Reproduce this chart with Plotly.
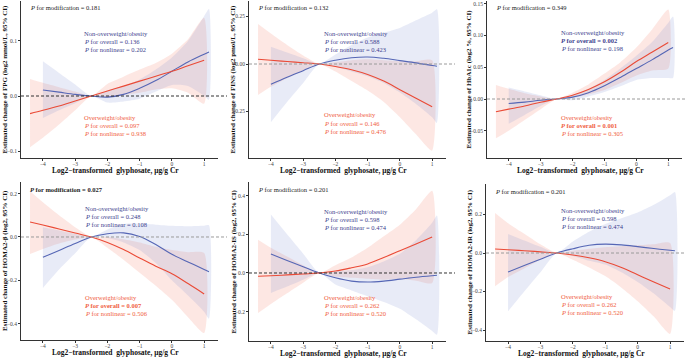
import plotly.graph_objects as go

# ---------------- data ----------------
x_ow = [-4.4, -4, -3.5, -3, -2.5, -2, -1.5, -1, -0.5, 0, 0.5, 1.0]          # Overweight/obesity
x_now = [-4, -3.5, -3, -2.5, -2, -1.5, -1, -0.5, 0, 0.5, 1.0, 1.15]         # Non-overweight/obesity
x_ticks = [-4, -3, -2, -1, 0, 1]

# FPG
fpg_ow = [-0.032, -0.026, -0.018, -0.009, 0, 0.009, 0.018, 0.027, 0.036, 0.045, 0.055, 0.065]
fpg_ow_hi = [0.031, 0.024, 0.016, 0.008, 0, 0.022, 0.035, 0.048, 0.06, 0.077, 0.103, 0.142]
fpg_ow_lo = [-0.093, -0.076, -0.052, -0.026, 0, -0.003, 0.002, 0.006, 0.012, 0.014, 0.006, -0.014]
fpg_now = [0.011, 0.007, 0.003, 0, -0.002, 0.003, 0.014, 0.028, 0.045, 0.062, 0.076, 0.08]
fpg_now_hi = [0.063, 0.042, 0.021, 0, 0.01, 0.018, 0.03, 0.048, 0.07, 0.1, 0.145, 0.158]
fpg_now_lo = [-0.04, -0.026, -0.013, 0, -0.012, -0.01, -0.005, 0.008, 0.02, 0.018, 0.0, -0.007]

# FINS
fins_ow = [0.025, 0.02, 0.013, 0.007, 0, -0.013, -0.03, -0.055, -0.09, -0.135, -0.18, -0.225]
fins_ow_hi = [0.21, 0.16, 0.1, 0.045, 0, 0.01, 0.02, 0.025, 0.02, 0.015, 0.015, 0.02]
fins_ow_lo = [-0.163, -0.12, -0.075, -0.035, 0, -0.04, -0.09, -0.14, -0.2, -0.28, -0.37, -0.456]
fins_now = [-0.107, -0.07, -0.035, 0, 0.02, 0.033, 0.037, 0.03, 0.018, 0.006, -0.008, -0.012]
fins_now_hi = [0.091, 0.06, 0.03, 0, 0.05, 0.1, 0.14, 0.165, 0.19, 0.23, 0.27, 0.288]
fins_now_lo = [-0.306, -0.2, -0.1, 0, -0.015, -0.04, -0.065, -0.1, -0.15, -0.21, -0.28, -0.31]

# HbA1c
hba_ow = [-0.02, -0.016, -0.011, -0.005, 0, 0.006, 0.015, 0.027, 0.042, 0.059, 0.074, 0.089]
hba_ow_hi = [0.022, 0.016, 0.009, 0.004, 0, 0.01, 0.023, 0.04, 0.058, 0.081, 0.11, 0.141]
hba_ow_lo = [-0.062, -0.05, -0.033, -0.016, 0, 0.002, 0.007, 0.014, 0.025, 0.037, 0.045, 0.048]
hba_now = [-0.007, -0.005, -0.002, 0, 0.003, 0.01, 0.021, 0.034, 0.048, 0.062, 0.077, 0.081]
hba_now_hi = [0.018, 0.012, 0.006, 0, 0.006, 0.016, 0.03, 0.048, 0.068, 0.09, 0.12, 0.13]
hba_now_lo = [-0.039, -0.025, -0.011, 0, -0.002, 0.004, 0.011, 0.02, 0.03, 0.033, 0.033, 0.033]

# HOMA2-beta
hb_ow = [0.069, 0.055, 0.037, 0.018, 0, -0.025, -0.058, -0.097, -0.135, -0.17, -0.215, -0.263]
hb_ow_hi = [0.211, 0.16, 0.1, 0.045, 0, 0.0, -0.01, -0.025, -0.045, -0.06, -0.07, -0.074]
hb_ow_lo = [-0.078, -0.055, -0.03, -0.012, 0, -0.05, -0.105, -0.165, -0.225, -0.29, -0.37, -0.443]
hb_now = [-0.094, -0.062, -0.03, 0, 0.015, 0.019, 0.002, -0.035, -0.08, -0.115, -0.15, -0.16]
hb_now_hi = [0.045, 0.03, 0.015, 0, 0.035, 0.06, 0.062, 0.057, 0.052, 0.05, 0.052, 0.054]
hb_now_lo = [-0.235, -0.15, -0.075, 0, -0.005, -0.025, -0.06, -0.12, -0.2, -0.27, -0.345, -0.377]

# HOMA2-IS
his_ow = [-0.017, -0.014, -0.01, -0.005, 0, 0.01, 0.027, 0.047, 0.08, 0.115, 0.15, 0.186]
his_ow_hi = [0.172, 0.13, 0.085, 0.04, 0, 0.04, 0.08, 0.13, 0.19, 0.25, 0.33, 0.426]
his_ow_lo = [-0.207, -0.16, -0.105, -0.05, 0, -0.02, -0.025, -0.03, -0.035, -0.03, -0.04, -0.052]
his_now = [0.098, 0.065, 0.032, 0, -0.025, -0.042, -0.047, -0.042, -0.032, -0.022, -0.014, -0.012]
his_now_hi = [0.302, 0.2, 0.1, 0, 0.01, 0.015, 0.03, 0.06, 0.1, 0.17, 0.26, 0.298]
his_now_lo = [-0.103, -0.07, -0.035, 0, -0.06, -0.09, -0.12, -0.15, -0.185, -0.24, -0.3, -0.319]

# HOMA2-IR
hir_ow = [0.021, 0.017, 0.012, 0.006, 0, -0.01, -0.025, -0.045, -0.075, -0.113, -0.15, -0.187]
hir_ow_hi = [0.208, 0.155, 0.1, 0.045, 0, 0.012, 0.022, 0.03, 0.035, 0.04, 0.045, 0.052]
hir_ow_lo = [-0.173, -0.125, -0.08, -0.035, 0, -0.035, -0.075, -0.12, -0.18, -0.25, -0.33, -0.42]
hir_now = [-0.099, -0.065, -0.032, 0, 0.022, 0.04, 0.046, 0.042, 0.033, 0.023, 0.014, 0.012]
hir_now_hi = [0.099, 0.065, 0.032, 0, 0.06, 0.11, 0.15, 0.18, 0.21, 0.25, 0.3, 0.317]
hir_now_lo = [-0.303, -0.2, -0.1, 0, -0.015, -0.04, -0.06, -0.1, -0.15, -0.21, -0.28, -0.3]

y_titles = [
    "Estimated change of FPG (log2 mmol/L, 95% CI)",
    "Estimated change of FINS (log2 pmol/L, 95% CI)",
    "Estimated change of HbA1c (log2 %, 95% CI)",
    "Estimated change of HOMA2-β (log2, 95% CI)",
    "Estimated change of HOMA2-IS (log2, 95% CI)",
    "Estimated change of HOMA2-IR (log2, 95% CI)",
]
p_mod = ["0.181", "0.132", "0.349", "0.027", "0.201", "0.201"]
p_overall_now = ["0.136", "0.588", "0.002", "0.248", "0.598", "0.598"]
p_nonlin_now = ["0.202", "0.423", "0.198", "0.108", "0.474", "0.474"]
p_overall_ow = ["0.097", "0.146", "0.001", "0.007", "0.262", "0.262"]
p_nonlin_ow = ["0.938", "0.476", "0.305", "0.506", "0.520", "0.520"]
y_tick_vals = [
    [-0.1, 0.0, 0.1],
    [-0.25, 0.0, 0.25],
    [-0.05, 0.0, 0.05, 0.10, 0.15],
    [-0.4, -0.2, 0.0, 0.2],
    [-0.2, 0.0, 0.2, 0.4],
    [-0.4, -0.2, 0.0, 0.2],
]
y_tick_text = [
    ["−0.1", "0.0", "0.1"],
    ["−0.25", "0.00", "0.25"],
    ["−0.05", "0.00", "0.05", "0.10", "0.15"],
    ["−0.4", "−0.2", "0.0", "0.2"],
    ["−0.2", "0.0", "0.2", "0.4"],
    ["−0.4", "−0.2", "0.0", "0.2"],
]

series = [
    (fpg_ow, fpg_ow_lo, fpg_ow_hi, fpg_now, fpg_now_lo, fpg_now_hi),
    (fins_ow, fins_ow_lo, fins_ow_hi, fins_now, fins_now_lo, fins_now_hi),
    (hba_ow, hba_ow_lo, hba_ow_hi, hba_now, hba_now_lo, hba_now_hi),
    (hb_ow, hb_ow_lo, hb_ow_hi, hb_now, hb_now_lo, hb_now_hi),
    (his_ow, his_ow_lo, his_ow_hi, his_now, his_now_lo, his_now_hi),
    (hir_ow, hir_ow_lo, hir_ow_hi, hir_now, hir_now_lo, hir_now_hi),
]

# ---------------- layout (pixels) ----------------
W, H = 685, 358
def px(v):
    return v / W
def py(v):
    return 1 - v / H

# left, right, top, bottom (px); y range
panels = [
    dict(l=21, r=218, t=1, b=158, yr=[-0.1127, 0.1727]),
    dict(l=249, r=446, t=1, b=158, yr=[-0.4947, 0.3316]),
    dict(l=487, r=682, t=1, b=158, yr=[-0.0929, 0.1543]),
    dict(l=21, r=218, t=182, b=340, yr=[-0.4754, 0.2538]),
    dict(l=249, r=446, t=182, b=341, yr=[-0.3519, 0.4708]),
    dict(l=486, r=684, t=184, b=341, yr=[-0.4571, 0.3584]),
]
ytitle_x = [5, 233, 469, 5, 233, 469]
dash_col = ["#333333", "#9a9a9a", "#9a9a9a", "#9a9a9a", "#333333", "#9a9a9a"]
bold_mod = [False, False, False, True, False, False]
bold_now = [False, False, True, False, False, False]
bold_ow = [False, False, True, True, False, False]

BLUE = "#5566b5"
RED = "#ea4a36"
BLUE_T = "#3d3f8e"
RED_T = "#f0603e"
BLUE_F = "rgba(120,138,205,0.17)"
RED_F = "rgba(246,128,108,0.19)"
FONT = "Liberation Serif"

fig = go.Figure()
layout = dict(width=W, height=H, margin=dict(l=0, r=0, t=0, b=0),
              paper_bgcolor="white", plot_bgcolor="white", showlegend=False,
              font=dict(family=FONT, size=7, color="#222"))
annotations = []
shapes = []

for i, p in enumerate(panels):
    k = "" if i == 0 else str(i + 1)
    xa, ya = "x" + k, "y" + k
    ow, ow_lo, ow_hi, now, now_lo, now_hi = series[i]
    fig.add_trace(go.Scatter(x=x_ow + x_ow[::-1], y=ow_hi + ow_lo[::-1], fill="toself",
                             fillcolor=RED_F, line=dict(width=0, shape="spline", smoothing=0.6),
                             mode="lines", xaxis=xa, yaxis=ya, hoverinfo="skip"))
    fig.add_trace(go.Scatter(x=x_now + x_now[::-1], y=now_hi + now_lo[::-1], fill="toself",
                             fillcolor=BLUE_F, line=dict(width=0, shape="spline", smoothing=0.6),
                             mode="lines", xaxis=xa, yaxis=ya, hoverinfo="skip"))
    fig.add_trace(go.Scatter(x=x_now, y=now, mode="lines",
                             line=dict(color=BLUE, width=1.1, shape="spline", smoothing=1.0),
                             xaxis=xa, yaxis=ya))
    fig.add_trace(go.Scatter(x=x_ow, y=ow, mode="lines",
                             line=dict(color=RED, width=1.1, shape="spline", smoothing=1.0),
                             xaxis=xa, yaxis=ya))
    layout["xaxis" + k] = dict(domain=[px(p["l"]), px(p["r"])], range=[-4.68, 1.43],
                               anchor=ya, tickvals=x_ticks, ticktext=["−4", "−3", "−2", "−1", "0", "1"],
                               showgrid=False, zeroline=False, showline=True, linecolor="#333",
                               linewidth=1, ticks="outside", ticklen=2, tickcolor="#333",
                               ticklabelstandoff=-2,
                               tickfont=dict(size=5.5, color="#444", family=FONT))
    layout["yaxis" + k] = dict(domain=[py(p["b"]), py(p["t"])], range=p["yr"], anchor=xa,
                               tickvals=y_tick_vals[i], ticktext=y_tick_text[i],
                               showgrid=False, zeroline=False, showline=True, linecolor="#333",
                               linewidth=1, ticks="outside", ticklen=2, tickcolor="#333",
                               tickfont=dict(size=5.5, color="#444", family=FONT))
    shapes.append(dict(type="line", xref="paper", yref=ya, x0=px(p["l"]), x1=px(min(p["r"] + 9, 685)),
                       y0=0, y1=0, line=dict(color=dash_col[i], width=1, dash="3px,2px")))
    annotations.append(dict(xref="paper", yref="paper", x=px((p["l"] + p["r"]) / 2 - 4),
                            y=py(p["b"] + 12.5), text="<b>Log2−transformed  glyphosate, μg/g Cr</b>",
                            showarrow=False, xanchor="center", yanchor="middle",
                            font=dict(size=7.5, family=FONT, color="#111")))
    annotations.append(dict(xref="paper", yref="paper", x=px(ytitle_x[i]),
                            y=py((p["t"] + p["b"]) / 2), text="<b>" + y_titles[i] + "</b>",
                            textangle=-90, showarrow=False, xanchor="center", yanchor="middle",
                            font=dict(size=7, family=FONT, color="#111")))
    t = "<i>P</i> for modification = " + p_mod[i]
    if bold_mod[i]:
        t = "<b>" + t + "</b>"
    annotations.append(dict(xref="paper", yref="paper", x=px(p["l"] + 7), y=py(p["t"] + 7),
                            text=t, showarrow=False, xanchor="left", yanchor="middle",
                            font=dict(size=6.5, family=FONT, color="#222")))

now_pos = [(82, 33), (322, 33), (559, 32), (83, 208), (322, 211), (559, 210)]
ow_pos = [(82, 117), (322, 115), (559, 117), (83, 297), (322, 297), (559, 296)]
for i in range(6):
    lines_now = ["Non-overweight/obesity",
                 "<i>P</i> for overall = " + p_overall_now[i],
                 "<i>P</i> for nonlinear = " + p_nonlin_now[i]]
    if bold_now[i]:
        lines_now[1] = "<b>" + lines_now[1] + "</b>"
    lines_ow = ["Overweight/obesity",
                "<i>P</i> for overall = " + p_overall_ow[i],
                "<i>P</i> for nonlinear = " + p_nonlin_ow[i]]
    if bold_ow[i]:
        lines_ow[1] = "<b>" + lines_ow[1] + "</b>"
    for j in range(3):
        annotations.append(dict(xref="paper", yref="paper", x=px(now_pos[i][0]),
                                y=py(now_pos[i][1] + 8.3 * j), text=lines_now[j], showarrow=False,
                                xanchor="left", yanchor="middle",
                                font=dict(size=6.5, family=FONT, color=BLUE_T)))
        annotations.append(dict(xref="paper", yref="paper", x=px(ow_pos[i][0]),
                                y=py(ow_pos[i][1] + 8.3 * j), text=lines_ow[j], showarrow=False,
                                xanchor="left", yanchor="middle",
                                font=dict(size=6.5, family=FONT, color=RED_T)))

layout["annotations"] = annotations
layout["shapes"] = shapes
fig.update_layout(**layout)
fig.write_html("out.html", config={"displayModeBar": False},
               post_script="document.body.style.margin='0';document.body.style.overflow='hidden';")
